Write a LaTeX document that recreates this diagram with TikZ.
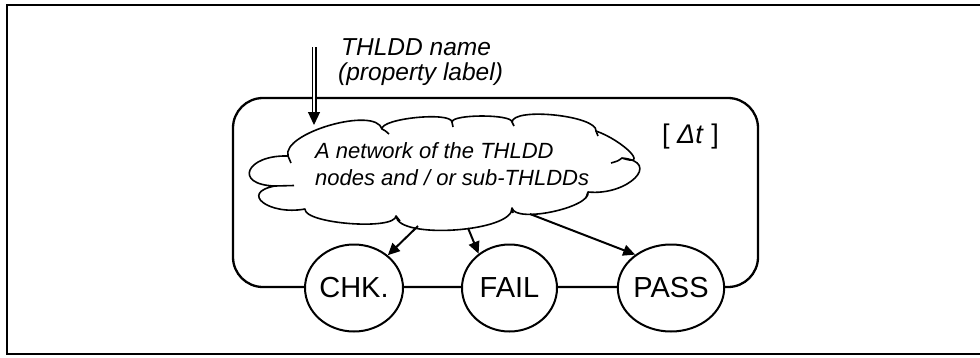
\documentclass[tikz,border=0pt]{standalone}
\usepackage{fontspec}
\setmainfont{Liberation Sans}
\usetikzlibrary{shapes.geometric,arrows.meta}
\begin{document}
\begin{tikzpicture}[x=1pt,y=-1pt,
  statenode/.style={ellipse, draw, line width=2, fill=white, minimum width=95, minimum height=87, inner sep=0, font=\fontsize{29}{34}\selectfont},
  arr/.style={line width=2, -{Triangle[length=12,width=11]}},
  dblarr/.style={double, double distance=2.6, line width=1.2, -{Triangle[length=13,width=12]}},
  cloudline/.style={line width=1.6, line join=round},
  lbl/.style={anchor=base west, inner sep=0, font=\fontsize{22}{27}\selectfont\itshape},
  toplbl/.style={anchor=base west, inner sep=0, font=\fontsize{24.5}{29}\selectfont\itshape}
]
\useasboundingbox (0,0) rectangle (980,357);
% outer frame
\draw[line width=2] (7,5) rectangle (1000,354);
% rounded container
\node[draw, line width=2.3, rounded corners=30, minimum width=525, minimum height=189, inner sep=0] (box) at (495.5,192.5) {};
% cloud outline
\draw[cloudline, fill=white] (288,156)
  .. controls (281.4,132.9) and (375.4,105.9) .. (382,129)
  .. controls (380.9,118.4) and (450.9,111.4) .. (452,122)
  .. controls (452,114) and (512,114) .. (512,122)
  .. controls (513.6,106.8) and (597.6,115.8) .. (596,131)
  .. controls (624,141) and (650,168) .. (622,158)
  .. controls (662,162) and (628,196) .. (588,192)
  .. controls (591.3,207.6) and (515.3,223.6) .. (512,208)
  .. controls (513.7,231.9) and (397.7,239.9) .. (396,216)
  .. controls (394.9,230.7) and (303.9,223.7) .. (305,209)
  .. controls (269,215.7) and (239,192.7) .. (275,186)
  .. controls (233,184.7) and (246,154.7) .. (288,156) -- cycle;
% inner hooks of the cloud
\draw[cloudline] (382,129) .. controls (385,130.5) .. (389,134);
\draw[cloudline] (452,122) -- (453,127);
\draw[cloudline] (512,122) -- (514,126);
\draw[cloudline] (596,131) -- (598,136);
\draw[cloudline] (622,158) .. controls (618,161) .. (611,163);
\draw[cloudline] (588,192) -- (586,198);
\draw[cloudline] (512,208) -- (513,213);
\draw[cloudline] (396,216) -- (400,221);
\draw[cloudline] (275,186) -- (294,185.5);
\draw[cloudline] (288,156) -- (291,163);
% cloud text
\node[lbl] (c1) at (315,158) {A network of the THLDD};
\node[lbl] (c2) at (315,185) {nodes and / or sub-THLDDs};
% labels
\node[toplbl] (n1) at (341,55) {THLDD name};
\node[toplbl] (n2) at (338,80) {(property label)};
\node[anchor=base west, inner sep=0, font=\fontsize{27}{30}\selectfont] (dt) at (662,143) {[ \textit{Δt} ]};
% states
\node[statenode] (chk) at (354,288) {CHK.};
\node[statenode] (fail) at (509.5,288) {FAIL};
\node[statenode] (pass) at (671,288) {PASS};
% connectors
\coordinate (s1) at (418,226);
\coordinate (s2) at (468,228);
\coordinate (s3) at (530,214);
\draw[arr] (s1) -- (chk);
\draw[arr] (s2) -- (fail.132);
\draw[arr] (s3) -- (pass.137);
\coordinate (d0) at (314,47);
\coordinate (d1) at (314,125);
\draw[dblarr] (d0) -- (d1);
\end{tikzpicture}
\end{document}
